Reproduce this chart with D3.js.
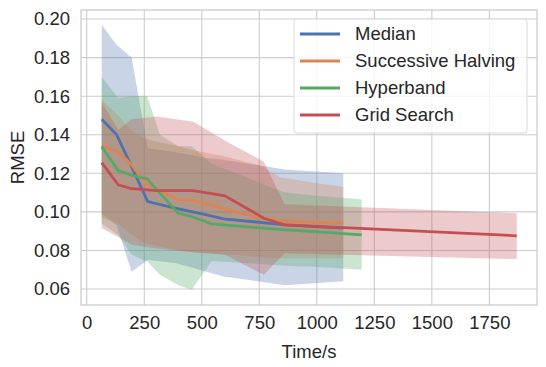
<html lang="en">
  <head>
    <meta charset="utf-8">
    <script src="https://d3js.org/d3.v7.js"></script>
    <style>
      body { margin: 0; background: #fff; }
      text { font-family: Arial, "Liberation Sans", sans-serif; fill: #262626; }
    </style>
  </head>
  <body>
    <svg id="chart" width="546" height="367"></svg>
    <script>
      // tick labels
      var xTicks = [0, 250, 500, 750, 1000, 1250, 1500, 1750];
      var yTicks = [0.06, 0.08, 0.10, 0.12, 0.14, 0.16, 0.18, 0.20];

      // Median
      var medTime  = [65, 130, 195, 265, 384, 521, 594, 862, 1115];
      var medMean  = [0.148, 0.140, 0.1235, 0.1053, 0.1019, 0.0984, 0.0964, 0.0933, 0.0916];
      var medUpper = [0.197, 0.1865, 0.180, 0.133, 0.131, 0.128, 0.127, 0.122, 0.120];
      var medLower = [0.099, 0.093, 0.069, 0.075, 0.0735, 0.069, 0.0665, 0.062, 0.064];

      // Successive Halving
      var shTime  = [65, 137, 195, 253, 318, 398, 463, 593, 753, 840, 992, 1115];
      var shMean  = [0.1342, 0.1313, 0.1244, 0.1149, 0.1114, 0.1062, 0.1059, 0.1019, 0.0967, 0.0955, 0.0945, 0.0942];
      var shUpper = [0.158, 0.150, 0.142, 0.138, 0.136, 0.134, 0.132, 0.129, 0.124, 0.118, 0.115, 0.113];
      var shLower = [0.097, 0.094, 0.088, 0.084, 0.082, 0.080, 0.079, 0.078, 0.0765, 0.076, 0.076, 0.076];

      // Hyperband
      var hbTime  = [65, 137, 195, 263, 318, 398, 456, 543, 753, 862, 992, 1195];
      var hbMean  = [0.1338, 0.1214, 0.119, 0.1171, 0.1097, 0.0993, 0.0976, 0.0938, 0.0917, 0.0907, 0.0898, 0.0881];
      var hbUpper = [0.170, 0.159, 0.160, 0.160, 0.140, 0.134, 0.134, 0.125, 0.115, 0.110, 0.1085, 0.1065];
      var hbLower = [0.094, 0.088, 0.0777, 0.0743, 0.0674, 0.062, 0.0596, 0.0745, 0.073, 0.072, 0.0715, 0.070];

      // Grid Search
      var gsTime  = [65, 137, 195, 304, 463, 600, 770, 860, 1869];
      var gsMean  = [0.1255, 0.114, 0.112, 0.111, 0.111, 0.1083, 0.0967, 0.0933, 0.0876];
      var gsUpper = [0.157, 0.1425, 0.148, 0.1494, 0.1468, 0.137, 0.126, 0.104, 0.0993];
      var gsLower = [0.0916, 0.087, 0.083, 0.081, 0.079, 0.0777, 0.0674, 0.0785, 0.0755];

      var seriesNames = ["Median", "Successive Halving", "Hyperband", "Grid Search"];
      var colors = ["#4c72b0", "#dd8452", "#55a868", "#c44e52"];

      function rows(t, m, u, l) {
        return t.map((d, i) => ({time: d, mean: m[i], upper: u[i], lower: l[i]}));
      }
      var series = [
        rows(medTime, medMean, medUpper, medLower),
        rows(shTime, shMean, shUpper, shLower),
        rows(hbTime, hbMean, hbUpper, hbLower),
        rows(gsTime, gsMean, gsUpper, gsLower)
      ];

      var svg = d3.select("svg#chart");
      var plot = {left: 81, right: 537, top: 10, bottom: 305};

      var xScale = d3.scaleLinear().domain([-25, 1957]).range([plot.left, plot.right]);
      var yScale = d3.scaleLinear().domain([0.0517, 0.2047]).range([plot.bottom, plot.top]);

      // grid
      svg.append("g").selectAll("line")
        .data(xTicks).enter().append("line")
        .attr("x1", d => xScale(d)).attr("x2", d => xScale(d))
        .attr("y1", plot.top).attr("y2", plot.bottom)
        .attr("stroke", "#cccccc").attr("stroke-width", 1.1);
      svg.append("g").selectAll("line")
        .data(yTicks).enter().append("line")
        .attr("x1", plot.left).attr("x2", plot.right)
        .attr("y1", d => yScale(d)).attr("y2", d => yScale(d))
        .attr("stroke", "#cccccc").attr("stroke-width", 1.1);

      // axes with no tick marks, seaborn style
      var xAxis = svg.append("g")
        .attr("transform", `translate(0, ${plot.bottom})`)
        .call(d3.axisBottom(xScale).tickValues(xTicks).tickSize(0).tickPadding(11).tickFormat(d3.format("d")));
      var yAxis = svg.append("g")
        .attr("transform", `translate(${plot.left}, 0)`)
        .call(d3.axisLeft(yScale).tickValues(yTicks).tickSize(0).tickPadding(11).tickFormat(d3.format(".2f")));
      [xAxis, yAxis].forEach(a => {
        a.select(".domain").remove();
        a.selectAll("text").attr("font-size", 18.5).attr("fill", "#262626")
          .attr("font-family", "Arial, 'Liberation Sans', sans-serif");
      });

      // bands first, then lines
      var area = d3.area()
        .x(d => xScale(d.time))
        .y0(d => yScale(d.lower))
        .y1(d => yScale(d.upper));
      var line = d3.line()
        .x(d => xScale(d.time))
        .y(d => yScale(d.mean));

      series.forEach((s, i) => {
        svg.append("path").datum(s)
          .attr("d", area)
          .attr("fill", colors[i])
          .attr("fill-opacity", 0.3);
      });
      series.forEach((s, i) => {
        svg.append("path").datum(s)
          .attr("d", line)
          .attr("fill", "none")
          .attr("stroke", colors[i])
          .attr("stroke-width", 2.8);
      });

      // frame
      svg.append("rect")
        .attr("x", plot.left).attr("y", plot.top)
        .attr("width", plot.right - plot.left).attr("height", plot.bottom - plot.top)
        .attr("fill", "none").attr("stroke", "#cccccc").attr("stroke-width", 1.3);

      // axis titles
      svg.append("text")
        .attr("x", (plot.left + plot.right) / 2).attr("y", 358)
        .attr("text-anchor", "middle").attr("font-size", 18.5)
        .text("Time/s");
      svg.append("text")
        .attr("transform", `translate(24, ${(plot.top + plot.bottom) / 2}) rotate(-90)`)
        .attr("text-anchor", "middle").attr("font-size", 18.5)
        .text("RMSE");

      // legend
      var legend = svg.append("g");
      legend.append("rect")
        .attr("x", 294).attr("y", 19).attr("width", 233).attr("height", 114)
        .attr("rx", 3).attr("fill", "#ffffff").attr("fill-opacity", 0.8)
        .attr("stroke", "#d9d9d9").attr("stroke-width", 1);
      seriesNames.forEach((name, i) => {
        var y = 34 + i * 27;
        legend.append("line")
          .attr("x1", 300).attr("x2", 340).attr("y1", y).attr("y2", y)
          .attr("stroke", colors[i]).attr("stroke-width", 2.8);
        legend.append("text")
          .attr("x", 355).attr("y", y).attr("dy", "0.35em")
          .attr("font-size", 18.5)
          .text(name);
      });
    </script>
  </body>
</html>
